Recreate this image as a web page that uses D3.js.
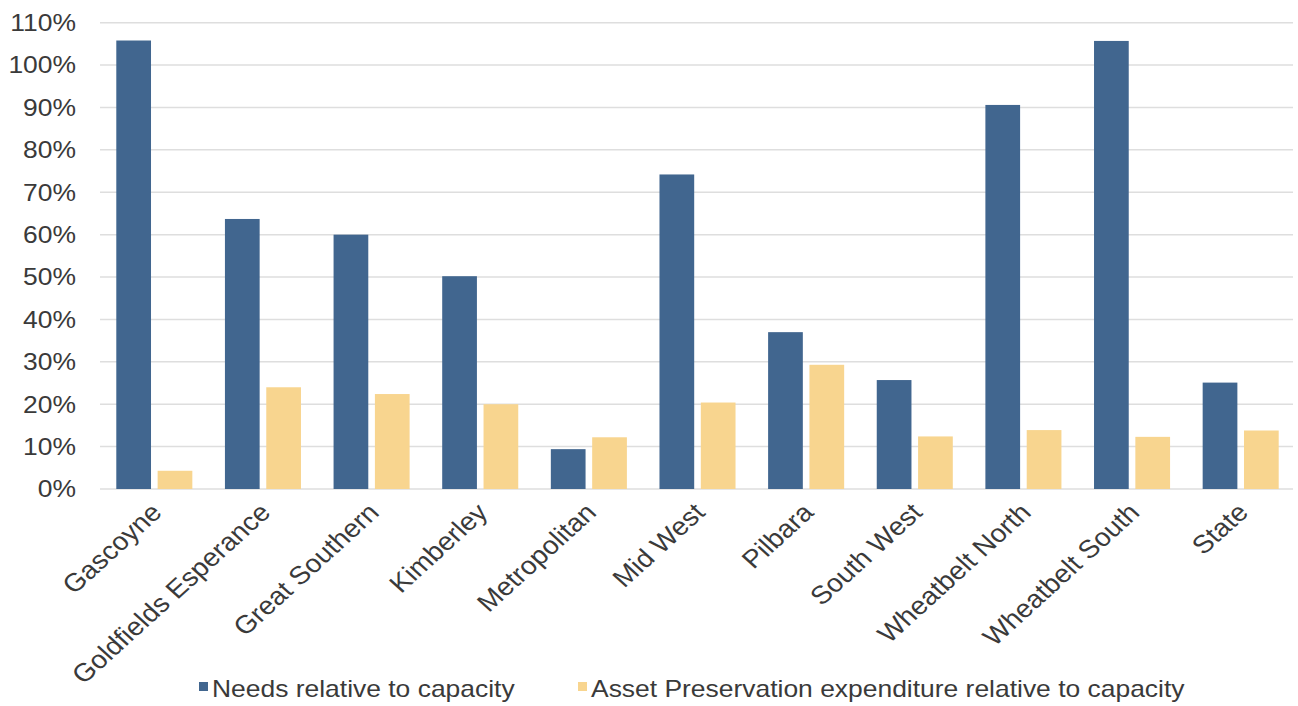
<!DOCTYPE html>
<html>
<head>
<meta charset="utf-8">
<script src="https://cdn.jsdelivr.net/npm/d3@7"></script>
<style>
  html, body { margin: 0; padding: 0; background: #ffffff; }
  svg { display: block; }
  text { font-family: "Liberation Sans", Arial, Helvetica, sans-serif; fill: #3a3a3a; }
</style>
</head>
<body>
<svg id="chart" width="1298" height="706"></svg>
<script>
// Regions and the two ratios plotted for each (percent)
const regions = ["Gascoyne", "Goldfields Esperance", "Great Southern", "Kimberley", "Metropolitan",
  "Mid West", "Pilbara", "South West", "Wheatbelt North", "Wheatbelt South", "State"];
const needs = [105.8, 63.7, 60.0, 50.2, 9.4, 74.2, 37.0, 25.7, 90.6, 105.7, 25.1];
const assetPreservation = [4.3, 24.0, 22.4, 20.0, 12.2, 20.4, 29.3, 12.4, 13.9, 12.3, 13.8];
const seriesNames = ["Needs relative to capacity", "Asset Preservation expenditure relative to capacity"];
const seriesColors = ["#41668f", "#f8d58f"];
const yTicks = [0, 10, 20, 30, 40, 50, 60, 70, 80, 90, 100, 110];

const svg = d3.select("#chart");

const x0 = d3.scaleBand().domain(regions).range([100, 1295]).paddingInner(0.3).paddingOuter(0.15);
const x1 = d3.scaleBand().domain([0, 1]).range([0, x0.bandwidth()]).paddingInner(0.16);
const y = d3.scaleLinear().domain([0, 110]).range([489, 22.7]);

// Horizontal gridlines
svg.append("g").selectAll("line").data(yTicks).join("line")
  .attr("x1", 100).attr("x2", 1293)
  .attr("y1", d => y(d)).attr("y2", d => y(d))
  .attr("stroke", "#dedede").attr("stroke-width", 1.5);

// Y tick labels
svg.append("g").selectAll("text").data(yTicks).join("text")
  .attr("transform", d => `translate(76,${y(d)}) scale(1.15,1)`)
  .attr("text-anchor", "end")
  .attr("dy", "0.36em")
  .style("font-size", "23px")
  .text(d => d + "%");

// Bars
const rows = regions.map((r, i) => ({ region: r, values: [needs[i], assetPreservation[i]] }));
const groups = svg.append("g").selectAll("g").data(rows).join("g")
  .attr("transform", d => `translate(${x0(d.region)},0)`);
groups.selectAll("rect").data(d => d.values.map((v, k) => ({ v, k }))).join("rect")
  .attr("x", d => x1(d.k))
  .attr("width", x1.bandwidth())
  .attr("y", d => y(d.v))
  .attr("height", d => y(0) - y(d.v))
  .attr("fill", d => seriesColors[d.k]);

// Category labels, rotated
svg.append("g").selectAll("text").data(regions).join("text")
  .attr("transform", d => `translate(${x0(d) + x0.bandwidth() / 2 + 9},${514}) scale(1.1,1) rotate(-45)`)
  .attr("text-anchor", "end")
  .style("font-size", "25.5px")
  .text(d => d);

// Legend
const legendX = [199, 578];
const legend = svg.append("g").selectAll("g").data(seriesNames).join("g")
  .attr("transform", (d, i) => `translate(${legendX[i]},0)`);
legend.append("rect")
  .attr("x", 0).attr("y", 682).attr("width", 9).attr("height", 9)
  .attr("fill", (d, i) => seriesColors[i]);
legend.append("text")
  .attr("transform", "translate(13,697) scale(1.15,1)")
  .style("font-size", "23px")
  .text(d => d);
</script>
</body>
</html>
